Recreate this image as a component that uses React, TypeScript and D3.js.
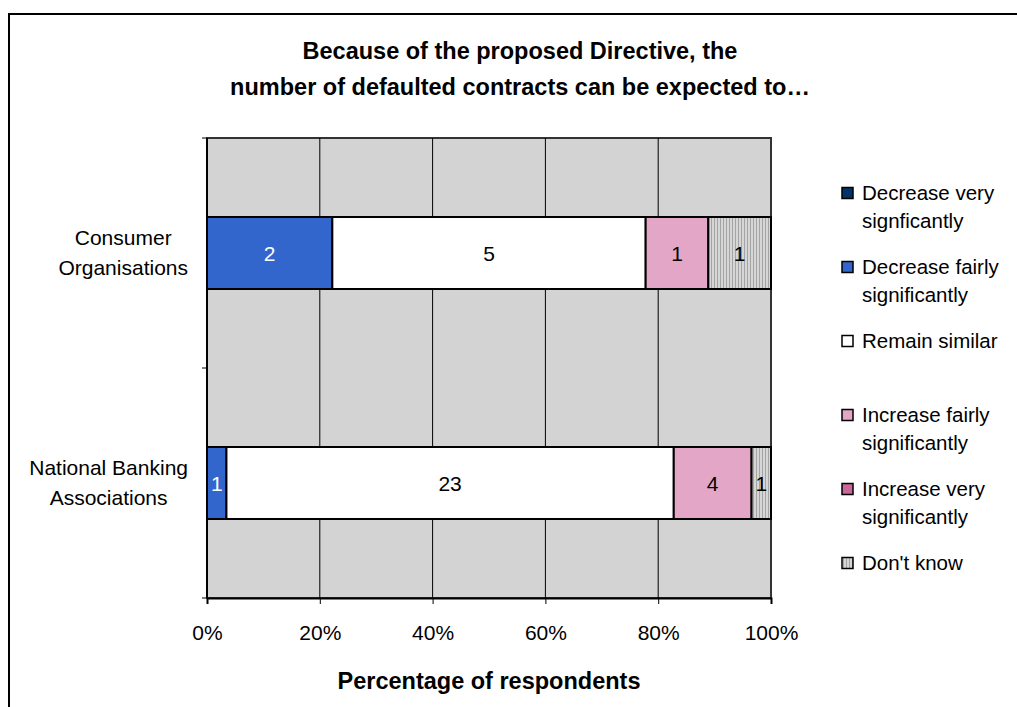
import * as d3 from 'd3';
import { useEffect, useRef } from 'react';

const categories = ['Consumer Organisations', 'National Banking Associations'];
const categoryLines = [
  ['Consumer', 'Organisations'],
  ['National Banking', 'Associations'],
];

const seriesNames = [
  'Decrease very signficantly',
  'Decrease fairly significantly',
  'Remain similar',
  'Increase fairly significantly',
  'Increase very significantly',
  "Don't know",
];
const legendLines = [
  ['Decrease very', 'signficantly'],
  ['Decrease fairly', 'significantly'],
  ['Remain similar'],
  ['Increase fairly', 'significantly'],
  ['Increase very', 'significantly'],
  ["Don't know"],
];

// respondent counts per category
const decreaseVery = [0, 0];
const decreaseFairly = [2, 1];
const remainSimilar = [5, 23];
const increaseFairly = [1, 4];
const increaseVery = [0, 0];
const dontKnow = [1, 1];

const xTicks = [0, 0.2, 0.4, 0.6, 0.8, 1];

const colors = ['#003366', '#3366CC', '#FFFFFF', '#E4A6C6', '#CC6699', 'url(#dkPattern)'];
const textColors = ['#fff', '#fff', '#000', '#000', '#000', '#000'];

const FONT = 'Arial, "Liberation Sans", sans-serif';

export default function App() {
  const ref = useRef<SVGSVGElement | null>(null);

  useEffect(() => {
    if (!ref.current) return;
    const svg = d3.select(ref.current);
    svg.selectAll('*').remove();

    const W = 1017;
    const H = 707;
    const plot = { left: 207, right: 771, top: 138, bottom: 598 };

    const defs = svg.append('defs');
    const pat = defs
      .append('pattern')
      .attr('id', 'dkPattern')
      .attr('patternUnits', 'userSpaceOnUse')
      .attr('width', 3)
      .attr('height', 3);
    pat.append('rect').attr('width', 3).attr('height', 3).attr('fill', '#d6d6d6');
    pat.append('rect').attr('width', 1).attr('height', 3).attr('fill', '#a4a4a4');

    svg.append('rect').attr('width', W).attr('height', H).attr('fill', '#fff');
    // chart border (right and bottom edges run off the page)
    svg
      .append('rect')
      .attr('x', 9)
      .attr('y', 14)
      .attr('width', W + 10)
      .attr('height', H + 10)
      .attr('fill', 'none')
      .attr('stroke', '#000')
      .attr('stroke-width', 2);

    // title, centred on the chart area
    const title = svg
      .append('text')
      .attr('text-anchor', 'middle')
      .attr('font-family', FONT)
      .attr('font-weight', 'bold')
      .attr('font-size', 23.5);
    title.append('tspan').attr('x', 520).attr('y', 59).text('Because of the proposed Directive, the');
    title
      .append('tspan')
      .attr('x', 520)
      .attr('y', 95)
      .text('number of defaulted contracts can be expected to\u2026');

    const x = d3.scaleLinear().domain([0, 1]).range([plot.left, plot.right]);
    const y = d3.scaleBand().domain(categories).range([plot.top, plot.bottom]).padding(0);

    // plot background
    svg
      .append('rect')
      .attr('x', plot.left)
      .attr('y', plot.top)
      .attr('width', plot.right - plot.left)
      .attr('height', plot.bottom - plot.top)
      .attr('fill', '#D3D3D3')
      .attr('stroke', '#333')
      .attr('stroke-width', 2);

    // gridlines
    svg
      .append('g')
      .selectAll('line')
      .data(xTicks.slice(1, -1))
      .join('line')
      .attr('x1', (d) => x(d))
      .attr('x2', (d) => x(d))
      .attr('y1', plot.top)
      .attr('y2', plot.bottom)
      .attr('stroke', '#000')
      .attr('stroke-width', 1);

    const table = categories.map((c, i) => ({
      category: c,
      [seriesNames[0]]: decreaseVery[i],
      [seriesNames[1]]: decreaseFairly[i],
      [seriesNames[2]]: remainSimilar[i],
      [seriesNames[3]]: increaseFairly[i],
      [seriesNames[4]]: increaseVery[i],
      [seriesNames[5]]: dontKnow[i],
    }));
    const stacked = d3
      .stack<any>()
      .keys(seriesNames)
      .offset(d3.stackOffsetExpand)(table);

    const barH = y.bandwidth() * 0.313;

    stacked.forEach((layer, si) => {
      const g = svg.append('g');
      const segs = layer.filter((d) => d[1] - d[0] > 0);
      g.selectAll('rect')
        .data(segs)
        .join('rect')
        .attr('x', (d) => x(d[0]))
        .attr('width', (d) => x(d[1]) - x(d[0]))
        .attr('y', (d) => y(d.data.category)! + (y.bandwidth() - barH) / 2)
        .attr('height', barH)
        .attr('fill', colors[si])
        .attr('stroke', '#000')
        .attr('stroke-width', 2);
      g.selectAll('text')
        .data(segs)
        .join('text')
        .attr('x', (d) => (x(d[0]) + x(d[1])) / 2)
        .attr('y', (d) => y(d.data.category)! + y.bandwidth() / 2 + 7.5)
        .attr('text-anchor', 'middle')
        .attr('font-family', FONT)
        .attr('font-size', 21)
        .attr('fill', textColors[si])
        .text((d) => d.data[layer.key]);
    });

    // axes
    const xAxis = svg
      .append('g')
      .attr('transform', `translate(0,${plot.bottom})`)
      .call(d3.axisBottom(x).tickValues(xTicks).tickFormat(d3.format('.0%')).tickSize(6).tickPadding(21));
    xAxis.select('.domain').attr('stroke', '#000').attr('stroke-width', 2);
    xAxis.selectAll('.tick line').attr('stroke', '#000');
    xAxis
      .selectAll('.tick text')
      .attr('font-family', FONT)
      .attr('font-size', 21)
      .attr('fill', '#000');

    const yAxis = svg.append('g').attr('transform', `translate(${plot.left},0)`);
    yAxis
      .append('line')
      .attr('x1', 0)
      .attr('x2', 0)
      .attr('y1', plot.top)
      .attr('y2', plot.bottom)
      .attr('stroke', '#000')
      .attr('stroke-width', 2);
    const boundaries = [plot.top, ...categories.map((c) => y(c)! + y.bandwidth())];
    yAxis
      .selectAll('line.tk')
      .data(boundaries)
      .join('line')
      .attr('class', 'tk')
      .attr('x1', -5)
      .attr('x2', 0)
      .attr('y1', (d) => d)
      .attr('y2', (d) => d)
      .attr('stroke', '#000');

    // category labels: lines centred within a block whose right edge sits at x=188
    categories.forEach((c, i) => {
      const lines = categoryLines[i];
      const t = svg
        .append('text')
        .attr('font-family', FONT)
        .attr('font-size', 21)
        .attr('text-anchor', 'middle');
      const spans = lines.map((l, j) =>
        t
          .append('tspan')
          .attr('y', y(c)! + y.bandwidth() / 2 - ((lines.length - 1) * 30) / 2 + j * 30 + 7)
          .text(l)
      );
      const maxW = d3.max(spans, (s) => (s.node() as SVGTSpanElement).getComputedTextLength()) ?? 0;
      spans.forEach((s) => s.attr('x', 188 - maxW / 2));
    });

    // x axis title
    svg
      .append('text')
      .attr('x', 489)
      .attr('y', 689)
      .attr('text-anchor', 'middle')
      .attr('font-family', FONT)
      .attr('font-weight', 'bold')
      .attr('font-size', 23.5)
      .text('Percentage of respondents');

    // legend
    const legend = svg.append('g');
    seriesNames.forEach((s, i) => {
      const cy = 193 + i * 74;
      legend
        .append('rect')
        .attr('x', 842)
        .attr('y', cy - 5.5)
        .attr('width', 11)
        .attr('height', 11)
        .attr('fill', colors[i])
        .attr('stroke', '#000')
        .attr('stroke-width', 1.5);
      const t = legend.append('text').attr('font-family', FONT).attr('font-size', 20.5);
      legendLines[i].forEach((l, j) => {
        t.append('tspan')
          .attr('x', 862)
          .attr('y', cy + 7 + j * 28)
          .text(l);
      });
    });
  }, []);

  return (
    <div style={{ position: 'fixed', left: 0, top: 0 }}>
      <svg ref={ref} width={1017} height={707} style={{ display: 'block' }} />
    </div>
  );
}
